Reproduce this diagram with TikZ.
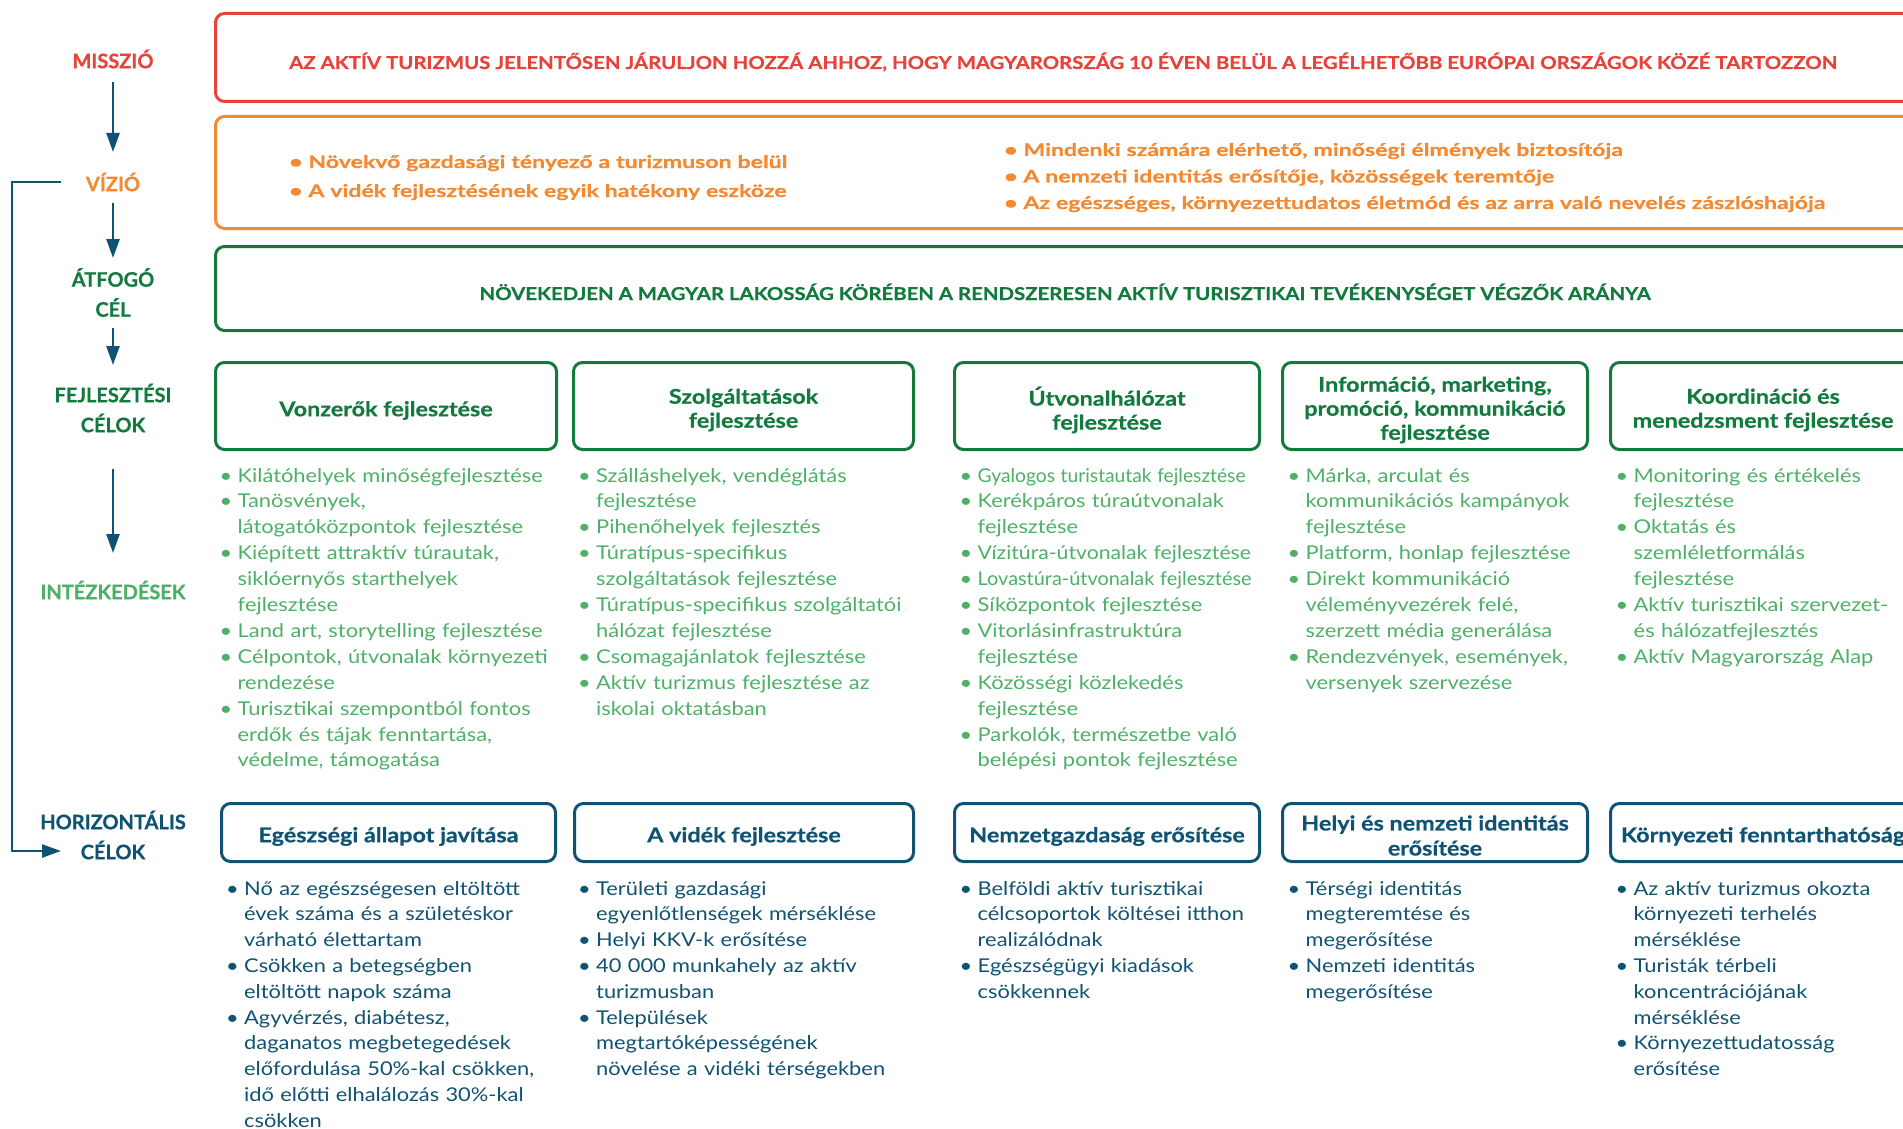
\documentclass[tikz,border=0pt]{standalone}
\usepackage{fontspec}
\usepackage{graphicx}
\setmainfont{Lato}[BoldFeatures={FakeBold=0.6}]
\newfontfamily\wfont{Lato}[FakeStretch=1.15, BoldFeatures={FakeBold=0.6}]
\newfontfamily\vfont{Lato}[FakeStretch=1.32, BoldFeatures={FakeBold=0.7}]
\usetikzlibrary{arrows.meta}
\definecolor{mred}{HTML}{E8433A}
\definecolor{morange}{HTML}{F18A32}
\definecolor{mgreen}{HTML}{137A3E}
\definecolor{mlgreen}{HTML}{4DB066}
\definecolor{mnavy}{HTML}{0F5272}
\newcommand{\bul}{\makebox[14pt][l]{\kern-4pt•}}
\newcommand{\ind}{\hspace*{14pt}}
\newcommand{\sq}[2]{\scalebox{#1}[1]{#2}}

\begin{document}
\begin{tikzpicture}[x=1pt, y=-1pt,
		lbl/.style={font=\fontsize{20}{30}\selectfont\bfseries, align=center, inner sep=0},
		arr/.style={draw=mnavy, line width=2.5pt, -{Triangle[width=13pt,length=19pt]}},
		frame/.style={draw, rounded corners=9pt, line width=3pt, anchor=north west, inner sep=0},
		devbox/.style={frame, draw=mgreen, minimum height=87pt},
		horbox/.style={frame, draw=mnavy, minimum height=58pt},
		dtxt/.style={text=mgreen, align=center, inner sep=0, font=\wfont\fontsize{20.3}{24}\selectfont\bfseries},
		htxt/.style={text=mnavy, align=center, inner sep=0, font=\wfont\fontsize{20.3}{25}\selectfont\bfseries},
		caps/.style={anchor=base, inner sep=0, font=\wfont\fontsize{17.7}{22}\selectfont\bfseries},
		vis/.style={anchor=base west, inner sep=0, text width=900pt, align=left, text=morange, font=\vfont\fontsize{17.5}{29}\selectfont\bfseries},
		lst/.style={anchor=base west, inner sep=0, text width=330pt, align=left, font=\wfont\fontsize{19}{25.9}\selectfont},
		ilst/.style={lst, text=mlgreen},
		hlst/.style={lst, text=mnavy, font=\wfont\fontsize{19}{25.8}\selectfont}]
		\useasboundingbox (0,0) rectangle (1903,1129);
		\clip (0,0) rectangle (1903,1129);
		% left column
		\node[lbl, text=mred] (misszio) at (113,59) {MISSZIÓ};
		\node[lbl, text=morange] (vizio) at (113,182) {VÍZIÓ};
		\node[lbl, text=mgreen] (atfogo) at (113,292.5) {ÁTFOGÓ\\CÉL};
		\node[lbl, text=mgreen] (fejl) at (113,408) {FEJLESZTÉSI\\CÉLOK};
		\node[lbl, text=mlgreen] (intezk) at (113,590) {INTÉZKEDÉSEK};
		\node[lbl, text=mnavy] (horiz) at (113,835) {HORIZONTÁLIS\\CÉLOK};
		\draw[arr, shorten <=23pt, shorten >=30pt] (misszio.center) -- (vizio.center);
		\draw[arr, shorten <=21pt, shorten >=34.5pt] (vizio.center) -- (atfogo.center);
		\draw[arr, shorten <=35.5pt, shorten >=43pt] (atfogo.center) -- (fejl.center);
		\draw[arr, shorten <=61pt, shorten >=37pt] (fejl.center) -- (intezk.center);
		\coordinate (brs) at (61,182);
		\coordinate (bre) at (61,851);
		\draw[arr] (brs) -- (12,182) |- (bre);
		% missio, vizio, atfogo cel
		\node[frame, draw=mred, minimum width=1700pt, minimum height=88pt] (mbox) at (214,12) {};
		\node[caps, text=mred] (mtext) at (1063,69) {AZ AKTÍV TURIZMUS JELENTŐSEN JÁRULJON HOZZÁ AHHOZ, HOGY MAGYARORSZÁG 10 ÉVEN BELÜL A LEGÉLHETŐBB EURÓPAI ORSZÁGOK KÖZÉ TARTOZZON};
		\node[frame, draw=morange, minimum width=1700pt, minimum height=112pt] (vbox) at (214,115) {};
		\node[vis] (vleft) at (289,168) {• Növekvő gazdasági tényező a turizmuson belül\\• A vidék fejlesztésének egyik hatékony eszköze};
		\node[vis, font=\vfont\fontsize{17.5}{26.5}\selectfont\bfseries] (vright) at (1004,156) {• Mindenki számára elérhető, minőségi élmények biztosítója\\• A nemzeti identitás erősítője, közösségek teremtője\\• Az egészséges, környezettudatos életmód és az arra való nevelés zászlóshajója};
		\node[frame, draw=mgreen, minimum width=1702pt, minimum height=84pt] (cbox) at (214,245) {};
		\node[caps, text=mgreen] (ctext) at (1065,300) {NÖVEKEDJEN A MAGYAR LAKOSSÁG KÖRÉBEN A RENDSZERESEN AKTÍV TURISZTIKAI TEVÉKENYSÉGET VÉGZŐK ARÁNYA};
		% fejlesztesi celok
		\node[devbox, minimum width=341pt] (d1) at (214,361) {};
		\node[devbox, minimum width=340pt] (d2) at (572,361) {};
		\node[devbox, minimum width=305pt] (d3) at (953,361) {};
		\node[devbox, minimum width=305pt] (d4) at (1281,361) {};
		\node[devbox, minimum width=305pt] (d5) at (1609,361) {};
		\node[dtxt] (d1t) at ([yshift=-4.5pt]d1.center) {Vonzerők fejlesztése};
		\node[dtxt] (d2t) at ([yshift=-4pt]d2.center) {Szolgáltatások\\fejlesztése};
		\node[dtxt] (d3t) at ([yshift=-4pt]d3.center) {Útvonalhálózat\\fejlesztése};
		\node[dtxt] (d4t) at ([yshift=-4pt]d4.center) {Információ, marketing,\\promóció, kommunikáció\\fejlesztése};
		\node[dtxt] (d5t) at ([yshift=-4pt]d5.center) {Koordináció és\\menedzsment fejlesztése};
		% intezkedesek
		\node[ilst] (i1) at (223.5,482) {\bul Kilátóhelyek minőségfejlesztése\\
			\bul Tanösvények,\\
			\ind látogatóközpontok fejlesztése\\
			\bul Kiépített attraktív túrautak,\\
			\ind siklóernyős starthelyek\\
			\ind fejlesztése\\
			\bul Land art, storytelling fejlesztése\\
			\bul Célpontok, útvonalak környezeti\\
			\ind rendezése\\
			\bul Turisztikai szempontból fontos\\
			\ind erdők és tájak fenntartása,\\
			\ind védelme, támogatása};
		\node[ilst] (i2) at (582,482) {\bul Szálláshelyek, vendéglátás\\
			\ind fejlesztése\\
			\bul Pihenőhelyek fejlesztés\\
			\bul Túratípus-specifikus\\
			\ind szolgáltatások fejlesztése\\
			\bul Túratípus-specifikus szolgáltatói\\
			\ind hálózat fejlesztése\\
			\bul Csomagajánlatok fejlesztése\\
			\bul Aktív turizmus fejlesztése az\\
			\ind iskolai oktatásban};
		\node[ilst] (i3) at (963.5,482) {\bul \sq{0.88}{Gyalogos turistautak fejlesztése}\\
			\bul Kerékpáros túraútvonalak\\
			\ind fejlesztése\\
			\bul \sq{0.97}{Vízitúra-útvonalak fejlesztése}\\
			\bul \sq{0.91}{Lovastúra-útvonalak fejlesztése}\\
			\bul Síközpontok fejlesztése\\
			\bul Vitorlásinfrastruktúra\\
			\ind fejlesztése\\
			\bul Közösségi közlekedés\\
			\ind fejlesztése\\
			\bul Parkolók, természetbe való\\
			\ind belépési pontok fejlesztése};
		\node[ilst] (i4) at (1291.5,482) {\bul Márka, arculat és\\
			\ind kommunikációs kampányok\\
			\ind fejlesztése\\
			\bul Platform, honlap fejlesztése\\
			\bul Direkt kommunikáció\\
			\ind véleményvezérek felé,\\
			\ind szerzett média generálása\\
			\bul Rendezvények, események,\\
			\ind versenyek szervezése};
		\node[ilst] (i5) at (1619.5,482) {\bul Monitoring és értékelés\\
			\ind fejlesztése\\
			\bul Oktatás és\\
			\ind szemléletformálás\\
			\ind fejlesztése\\
			\bul Aktív turisztikai szervezet-\\
			\ind és hálózatfejlesztés\\
			\bul Aktív Magyarország Alap};
		% horizontalis celok
		\node[horbox, minimum width=334pt] (h1) at (220,802) {};
		\node[horbox, minimum width=339pt] (h2) at (573,802) {};
		\node[horbox, minimum width=305pt] (h3) at (953,802) {};
		\node[horbox, minimum width=305pt] (h4) at (1281,802) {};
		\node[horbox, minimum width=305pt] (h5) at (1609,802) {};
		\node[htxt] (h1t) at ([yshift=-4pt]h1.center) {Egészségi állapot javítása};
		\node[htxt] (h2t) at ([yshift=-4pt]h2.center) {A vidék fejlesztése};
		\node[htxt] (h3t) at ([yshift=-4pt]h3.center) {Nemzetgazdaság erősítése};
		\node[htxt] (h4t) at ([yshift=-3pt]h4.center) {Helyi és nemzeti identitás\\erősítése};
		\node[htxt] (h5t) at ([yshift=-4pt]h5.center) {Környezeti fenntarthatóság};
		\node[hlst] (l1) at (230,895) {\bul Nő az egészségesen eltöltött\\
			\ind évek száma és a születéskor\\
			\ind várható élettartam\\
			\bul Csökken a betegségben\\
			\ind eltöltött napok száma\\
			\bul Agyvérzés, diabétesz,\\
			\ind daganatos megbetegedések\\
			\ind előfordulása 50\%-kal csökken,\\
			\ind idő előtti elhalálozás 30\%-kal\\
			\ind csökken};
		\node[hlst] (l2) at (582,895) {\bul Területi gazdasági\\
			\ind egyenlőtlenségek mérséklése\\
			\bul Helyi KKV-k erősítése\\
			\bul 40 000 munkahely az aktív\\
			\ind turizmusban\\
			\bul Települések\\
			\ind megtartóképességének\\
			\ind növelése a vidéki térségekben};
		\node[hlst] (l3) at (963.5,895) {\bul Belföldi aktív turisztikai\\
			\ind célcsoportok költései itthon\\
			\ind realizálódnak\\
			\bul Egészségügyi kiadások\\
			\ind csökkennek};
		\node[hlst] (l4) at (1291.5,895) {\bul Térségi identitás\\
			\ind megteremtése és\\
			\ind megerősítése\\
			\bul Nemzeti identitás\\
			\ind megerősítése};
		\node[hlst] (l5) at (1619.5,895) {\bul Az aktív turizmus okozta\\
			\ind környezeti terhelés\\
			\ind mérséklése\\
			\bul Turisták térbeli\\
			\ind koncentrációjának\\
			\ind mérséklése\\
			\bul Környezettudatosság\\
			\ind erősítése};
	\end{tikzpicture}
\end{document}
